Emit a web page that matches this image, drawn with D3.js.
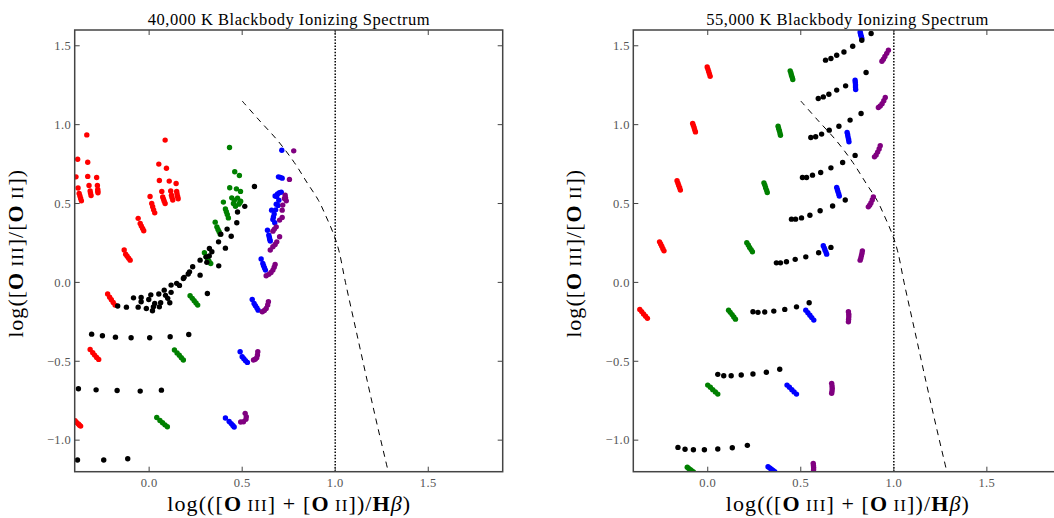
<!DOCTYPE html>
<html>
<head>
<meta charset="utf-8">
<script src="https://cdn.jsdelivr.net/npm/d3@7"></script>
<style>
  body { margin: 0; background: #fff; }
  svg { display: block; }
</style>
</head>
<body>
<div id="chart"></div>
<script>
// axes
const xDomain = [-0.4, 1.9];
const yDomain = [-1.2, 1.6];
const xTicks = [0.0, 0.5, 1.0, 1.5];
const yTicks = [-1.0, -0.5, 0.0, 0.5, 1.0, 1.5];
const titles = ['40,000 K Blackbody Ionizing Spectrum', '55,000 K Blackbody Ionizing Spectrum'];
const dottedX = 1.0;

// dashed reference curve
const dashedCurve = [
  [0.50, 1.15], [0.59, 1.03], [0.69, 0.90], [0.78, 0.76], [0.85, 0.63], [0.91, 0.52],
  [0.95, 0.42], [0.99, 0.31], [1.02, 0.20], [1.055, 0.00], [1.115, -0.32], [1.175, -0.64],
  [1.225, -0.90], [1.285, -1.20]
];

// 40,000 K panel
const red40 = [
  [-0.384, 0.781], [-0.393, 0.669], [-0.382, 0.598], [-0.376, 0.564], [-0.372, 0.548], [-0.368, 0.532], [-0.364, 0.517],
  [-0.335, 0.935], [-0.330, 0.762], [-0.330, 0.672], [-0.323, 0.615], [-0.317, 0.580], [-0.315, 0.566], [-0.312, 0.551],
  [-0.282, 0.665], [-0.278, 0.615], [-0.276, 0.589], [-0.276, 0.578], [-0.275, 0.568],
  [0.086, 0.902], [0.052, 0.750], [0.093, 0.724], [0.055, 0.646], [0.068, 0.577], [0.073, 0.542], [0.077, 0.528], [0.081, 0.514], [0.086, 0.500],
  [0.108, 0.642], [0.116, 0.580], [0.120, 0.553], [0.123, 0.538], [0.127, 0.522],
  [0.145, 0.627], [0.148, 0.577], [0.150, 0.560], [0.153, 0.545], [0.156, 0.530],
  [0.005, 0.545], [0.014, 0.500], [0.019, 0.480], [0.024, 0.460], [0.030, 0.441],
  [-0.059, 0.406], [-0.048, 0.374], [-0.042, 0.358], [-0.035, 0.342], [-0.029, 0.327],
  [-0.134, 0.205], [-0.126, 0.179], [-0.118, 0.166], [-0.110, 0.153], [-0.102, 0.141],
  [-0.223, -0.074], [-0.212, -0.094], [-0.203, -0.110], [-0.193, -0.127], [-0.183, -0.144],
  [-0.317, -0.425], [-0.303, -0.446], [-0.293, -0.461], [-0.282, -0.476], [-0.271, -0.488],
  [-0.398, -0.877], [-0.390, -0.888], [-0.380, -0.898], [-0.374, -0.905], [-0.368, -0.911]
];
const green40 = [
  [0.432, 0.855], [0.460, 0.701], [0.485, 0.678], [0.433, 0.600], [0.469, 0.593], [0.491, 0.577],
  [0.444, 0.536], [0.475, 0.534], [0.492, 0.515], [0.453, 0.500], [0.464, 0.483], [0.482, 0.496],
  [0.458, 0.520], [0.487, 0.505],
  [0.399, 0.509], [0.410, 0.466], [0.415, 0.448], [0.420, 0.430], [0.426, 0.409],
  [0.355, 0.382], [0.364, 0.352], [0.370, 0.336], [0.376, 0.321], [0.382, 0.306],
  [0.297, 0.188], [0.306, 0.162], [0.314, 0.148], [0.322, 0.134], [0.331, 0.120],
  [0.220, -0.085], [0.232, -0.101], [0.242, -0.116], [0.252, -0.130], [0.261, -0.144],
  [0.136, -0.429], [0.150, -0.447], [0.162, -0.462], [0.173, -0.478], [0.184, -0.492],
  [0.041, -0.856], [0.058, -0.875], [0.072, -0.890], [0.085, -0.903], [0.098, -0.915]
];
const blue40 = [
  [0.713, 0.838], [0.695, 0.669], [0.705, 0.666], [0.715, 0.661], [0.677, 0.548], [0.690, 0.560],
  [0.700, 0.568], [0.710, 0.572], [0.685, 0.545], [0.697, 0.521], [0.683, 0.496], [0.693, 0.488],
  [0.658, 0.458], [0.672, 0.433], [0.680, 0.460], [0.665, 0.399], [0.675, 0.378], [0.668, 0.415],
  [0.636, 0.331], [0.643, 0.300], [0.646, 0.287], [0.648, 0.274], [0.651, 0.262],
  [0.602, 0.148], [0.611, 0.120], [0.615, 0.106], [0.620, 0.092], [0.625, 0.078],
  [0.554, -0.108], [0.564, -0.133], [0.571, -0.148], [0.579, -0.162], [0.586, -0.176],
  [0.489, -0.440], [0.500, -0.471], [0.509, -0.484], [0.518, -0.496], [0.528, -0.507],
  [0.410, -0.860], [0.430, -0.882], [0.441, -0.895], [0.450, -0.907], [0.457, -0.917]
];
const purple40 = [
  [0.777, 0.834], [0.754, 0.653], [0.731, 0.553], [0.733, 0.535], [0.737, 0.517], [0.727, 0.532],
  [0.718, 0.490], [0.715, 0.458], [0.715, 0.412], [0.701, 0.395], [0.683, 0.352], [0.665, 0.325],
  [0.673, 0.338], [0.701, 0.289], [0.686, 0.257], [0.665, 0.226], [0.651, 0.205], [0.677, 0.240],
  [0.677, 0.114], [0.672, 0.096], [0.665, 0.078], [0.655, 0.063], [0.643, 0.051], [0.629, 0.042],
  [0.641, -0.123], [0.637, -0.143], [0.629, -0.165], [0.619, -0.178], [0.608, -0.186],
  [0.584, -0.440], [0.582, -0.460], [0.578, -0.478], [0.570, -0.487], [0.561, -0.492],
  [0.516, -0.830], [0.522, -0.852], [0.520, -0.868], [0.507, -0.883], [0.492, -0.885]
];
const black40 = [
  [-0.309, -0.328], [-0.251, -0.338], [-0.181, -0.347], [-0.097, -0.351], [0.003, -0.351], [0.113, -0.345], [0.213, -0.330],
  [-0.380, -0.674], [-0.285, -0.681], [-0.172, -0.685], [-0.048, -0.689], [0.066, -0.683],
  [-0.385, -1.126], [-0.244, -1.126], [-0.115, -1.118],
  [-0.169, -0.150], [-0.122, -0.157], [-0.084, -0.098], [-0.059, -0.157], [-0.043, -0.095], [-0.043, -0.123],
  [-0.015, -0.165], [-0.002, -0.108], [0.009, -0.079], [0.018, -0.180], [0.023, -0.155], [0.030, -0.133],
  [0.052, -0.074], [0.055, -0.155], [0.062, -0.129], [0.081, -0.049], [0.088, -0.082], [0.100, -0.101],
  [0.111, -0.129], [0.118, -0.063], [0.118, -0.017], [0.148, -0.006], [0.163, -0.019], [0.184, 0.025],
  [0.188, 0.032], [0.210, 0.053], [0.217, 0.067], [0.234, 0.099], [0.274, 0.141], [0.274, 0.046],
  [0.313, -0.070], [0.306, 0.162], [0.323, 0.167], [0.310, 0.127], [0.324, 0.215], [0.337, 0.194],
  [0.374, 0.105], [0.373, 0.257], [0.410, 0.217], [0.385, 0.306], [0.441, 0.293], [0.419, 0.338],
  [0.471, 0.378], [0.475, 0.446], [0.514, 0.482], [0.566, 0.608]
];

// 55,000 K panel
const red55 = [
  [-0.003, 1.366], [0.001, 1.352], [0.005, 1.337], [0.009, 1.322], [0.013, 1.307],
  [-0.081, 1.008], [-0.077, 0.994], [-0.073, 0.980], [-0.070, 0.967], [-0.066, 0.954],
  [-0.165, 0.644], [-0.160, 0.629], [-0.156, 0.614], [-0.151, 0.600], [-0.147, 0.585],
  [-0.259, 0.257], [-0.253, 0.243], [-0.247, 0.229], [-0.241, 0.214], [-0.235, 0.200],
  [-0.365, -0.171], [-0.355, -0.185], [-0.345, -0.200], [-0.334, -0.214], [-0.324, -0.228]
];
const green55 = [
  [0.443, 1.341], [0.447, 1.327], [0.450, 1.313], [0.454, 1.300], [0.457, 1.286],
  [0.378, 0.990], [0.381, 0.976], [0.385, 0.961], [0.388, 0.947], [0.391, 0.933],
  [0.302, 0.631], [0.307, 0.616], [0.311, 0.600], [0.316, 0.585], [0.320, 0.570],
  [0.210, 0.251], [0.218, 0.237], [0.225, 0.222], [0.233, 0.208], [0.240, 0.194],
  [0.112, -0.176], [0.121, -0.190], [0.131, -0.204], [0.140, -0.219], [0.149, -0.233],
  [0.000, -0.651], [0.014, -0.665], [0.027, -0.680], [0.041, -0.694], [0.054, -0.708],
  [-0.110, -1.172], [-0.102, -1.180], [-0.093, -1.188], [-0.085, -1.195], [-0.077, -1.202]
];
const blue55 = [
  [0.819, 1.588], [0.821, 1.578], [0.823, 1.567], [0.826, 1.556], [0.828, 1.546],
  [0.792, 1.282], [0.793, 1.267], [0.794, 1.252], [0.794, 1.238], [0.795, 1.223],
  [0.749, 0.951], [0.752, 0.936], [0.754, 0.921], [0.757, 0.906], [0.759, 0.891],
  [0.693, 0.602], [0.697, 0.588], [0.700, 0.575], [0.704, 0.561], [0.707, 0.547],
  [0.621, 0.232], [0.626, 0.219], [0.630, 0.206], [0.635, 0.192], [0.639, 0.179],
  [0.527, -0.176], [0.538, -0.192], [0.549, -0.208], [0.559, -0.223], [0.570, -0.239],
  [0.426, -0.651], [0.439, -0.665], [0.452, -0.680], [0.464, -0.694], [0.477, -0.708],
  [0.324, -1.168], [0.333, -1.176], [0.342, -1.184], [0.351, -1.192], [0.360, -1.200]
];
const purple55 = [
  [0.971, 1.472], [0.962, 1.452], [0.952, 1.432], [0.944, 1.415], [0.936, 1.402],
  [0.954, 1.172], [0.946, 1.152], [0.937, 1.133], [0.927, 1.118], [0.917, 1.109],
  [0.927, 0.866], [0.921, 0.846], [0.913, 0.826], [0.905, 0.808], [0.896, 0.796],
  [0.890, 0.542], [0.884, 0.522], [0.877, 0.503], [0.870, 0.489], [0.863, 0.479],
  [0.831, 0.200], [0.829, 0.185], [0.826, 0.170], [0.823, 0.155], [0.819, 0.141],
  [0.756, -0.186], [0.758, -0.202], [0.758, -0.218], [0.757, -0.234], [0.756, -0.250],
  [0.666, -0.640], [0.668, -0.656], [0.669, -0.672], [0.668, -0.688], [0.666, -0.703],
  [0.567, -1.147], [0.568, -1.160], [0.569, -1.173], [0.569, -1.187], [0.568, -1.200]
];
const black55 = [
  [0.633, 1.409], [0.662, 1.419], [0.693, 1.440], [0.732, 1.461], [0.779, 1.497], [0.828, 1.535], [0.878, 1.578],
  [0.594, 1.166], [0.621, 1.176], [0.651, 1.193], [0.693, 1.219], [0.741, 1.246], [0.851, 1.331],
  [0.554, 0.919], [0.580, 0.923], [0.612, 0.940], [0.653, 0.965], [0.705, 0.990], [0.765, 1.029], [0.824, 1.071],
  [0.509, 0.665], [0.531, 0.665], [0.563, 0.680], [0.607, 0.697], [0.662, 0.726], [0.725, 0.760], [0.792, 0.805],
  [0.450, 0.401], [0.472, 0.401], [0.504, 0.409], [0.549, 0.426], [0.604, 0.454], [0.671, 0.484], [0.739, 0.522],
  [0.369, 0.124], [0.391, 0.124], [0.423, 0.131], [0.470, 0.146], [0.527, 0.162], [0.596, 0.188], [0.662, 0.222],
  [0.243, -0.186], [0.270, -0.190], [0.306, -0.188], [0.355, -0.182], [0.414, -0.171], [0.477, -0.155], [0.545, -0.129],
  [0.054, -0.583], [0.086, -0.592], [0.126, -0.592], [0.180, -0.587], [0.243, -0.581], [0.315, -0.570], [0.387, -0.551],
  [-0.160, -1.046], [-0.122, -1.058], [-0.077, -1.061], [-0.018, -1.061], [0.054, -1.056], [0.132, -1.048], [0.213, -1.033]
];

const seriesColors = ['#ff0000', '#008000', '#0000ff', '#800080', '#000000'];
const panels = [
  { left: 74.7, title: titles[0], series: [red40, green40, blue40, purple40, black40] },
  { left: 633.3, title: titles[1], series: [red55, green55, blue55, purple55, black55] }
];

const W = 1054, H = 518;
const plotTop = 30, plotBottom = 471.7, pw = 428;
const frameColor = '#444';
const serif = '"Liberation Serif", "DejaVu Serif", serif';

const svg = d3.select('#chart').append('svg')
  .attr('width', W).attr('height', H)
  .attr('font-family', serif);

const fmt = d3.format('.1f');

function axisLabelX(g, cx, y) {
  const t = g.append('text').attr('x', cx).attr('y', y)
    .attr('text-anchor', 'middle').attr('font-size', 22).attr('fill', '#000')
    .attr('textLength', 243).attr('lengthAdjust', 'spacing');
  t.append('tspan').text('log(([');
  t.append('tspan').attr('font-weight', 'bold').text('O');
  t.append('tspan').attr('font-size', 17).text(' III');
  t.append('tspan').text('] + [');
  t.append('tspan').attr('font-weight', 'bold').text('O');
  t.append('tspan').attr('font-size', 17).text(' II');
  t.append('tspan').text('])/');
  t.append('tspan').attr('font-weight', 'bold').text('H');
  t.append('tspan').attr('font-style', 'italic').text('β');
  t.append('tspan').text(')');
}

function axisLabelY(g, x, cy) {
  const t = g.append('text')
    .attr('transform', `translate(${x},${cy}) rotate(-90)`)
    .attr('text-anchor', 'middle').attr('font-size', 22).attr('fill', '#000')
    .attr('textLength', 168).attr('lengthAdjust', 'spacing');
  t.append('tspan').text('log([');
  t.append('tspan').attr('font-weight', 'bold').text('O');
  t.append('tspan').attr('font-size', 17).text(' III');
  t.append('tspan').text(']/[');
  t.append('tspan').attr('font-weight', 'bold').text('O');
  t.append('tspan').attr('font-size', 17).text(' II');
  t.append('tspan').text('])');
}

panels.forEach((p, i) => {
  const x = d3.scaleLinear().domain(xDomain).range([p.left, p.left + pw]);
  const y = d3.scaleLinear().domain(yDomain).range([plotBottom, plotTop]);
  const g = svg.append('g');

  const clipId = 'clip' + i;
  svg.append('clipPath').attr('id', clipId)
    .append('rect').attr('x', p.left).attr('y', plotTop).attr('width', pw).attr('height', plotBottom - plotTop);

  const plot = g.append('g').attr('clip-path', `url(#${clipId})`);

  // reference lines
  plot.append('line')
    .attr('x1', x(dottedX)).attr('x2', x(dottedX))
    .attr('y1', plotTop).attr('y2', plotBottom)
    .attr('stroke', '#000').attr('stroke-width', 1.5)
    .attr('stroke-dasharray', '1.5,1.6');

  plot.append('path')
    .datum(dashedCurve)
    .attr('d', d3.line().x(d => x(d[0])).y(d => y(d[1])).curve(d3.curveCatmullRom))
    .attr('fill', 'none').attr('stroke', '#000').attr('stroke-width', 1)
    .attr('stroke-dasharray', '6,5');

  // scatter
  p.series.forEach((pts, k) => {
    plot.append('g').selectAll('circle')
      .data(pts)
      .join('circle')
      .attr('cx', d => x(d[0]))
      .attr('cy', d => y(d[1]))
      .attr('r', 2.7)
      .attr('fill', seriesColors[k]);
  });

  // ticks, inward on all four sides
  const tl = 5;
  const ticks = g.append('g').attr('stroke', frameColor).attr('stroke-width', 1);
  xTicks.forEach(v => {
    ticks.append('line').attr('x1', x(v)).attr('x2', x(v)).attr('y1', plotBottom).attr('y2', plotBottom - tl);
    ticks.append('line').attr('x1', x(v)).attr('x2', x(v)).attr('y1', plotTop).attr('y2', plotTop + tl);
  });
  yTicks.forEach(v => {
    ticks.append('line').attr('y1', y(v)).attr('y2', y(v)).attr('x1', p.left).attr('x2', p.left + tl);
    ticks.append('line').attr('y1', y(v)).attr('y2', y(v)).attr('x1', p.left + pw).attr('x2', p.left + pw - tl);
  });

  // tick labels
  g.append('g').selectAll('text').data(xTicks).join('text')
    .attr('x', d => x(d)).attr('y', plotBottom + 15)
    .attr('text-anchor', 'middle').attr('font-size', 12.5).attr('fill', '#555')
    .attr('letter-spacing', 0.4)
    .text(d => fmt(d));
  g.append('g').selectAll('text').data(yTicks).join('text')
    .attr('x', p.left - 3.5).attr('y', d => y(d) + 4.3)
    .attr('text-anchor', 'end').attr('font-size', 12.5).attr('fill', '#555')
    .attr('letter-spacing', 0.4)
    .text(d => fmt(d));

  // frame
  g.append('rect')
    .attr('x', p.left).attr('y', plotTop).attr('width', pw).attr('height', plotBottom - plotTop)
    .attr('fill', 'none').attr('stroke', frameColor).attr('stroke-width', 1.5);

  // title and labels
  g.append('text')
    .attr('x', p.left + pw / 2).attr('y', 25)
    .attr('text-anchor', 'middle').attr('font-size', 16.5).attr('fill', '#000')
    .attr('textLength', 282).attr('lengthAdjust', 'spacing')
    .text(p.title);

  axisLabelX(g, p.left + pw / 2, 511);
  axisLabelY(g, p.left - 52, (plotTop + plotBottom) / 2 + 3);
});
</script>
</body>
</html>
